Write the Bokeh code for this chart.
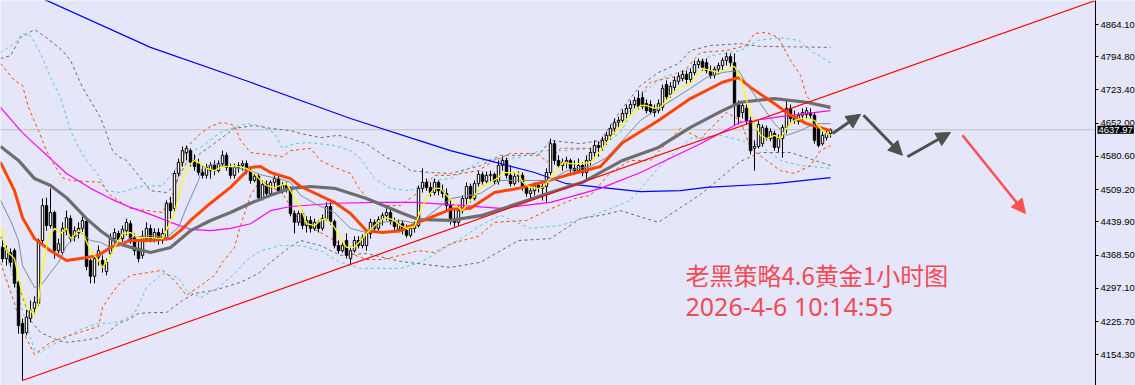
import numpy as np
from bokeh.plotting import figure
from bokeh.models import (Range1d, FixedTicker, PrintfTickFormatter, Label,
                          Arrow, NormalHead, ColumnDataSource)
from bokeh.embed import file_html
from bokeh.resources import INLINE
from bokeh.core.properties import value

# ---------------- candle data (XAUUSD H1) ----------------
open_ = [4385,4361,4374,4378,4310,4222,4202,4232,4254,4265,4400,4475,4432,4460,4378,4374,4421,4447,4409,4417,
         4426,4441,4357,4323,4364,4357,4333,4372,4404,4415,4404,4421,4436,4406,4383,4368,4404,4426,4404,4417,
         4400,4406,4480,4469,4544,4568,4589,4593,4572,4565,4546,4540,4550,4561,4550,4565,4583,4557,4540,4557,
         4561,4565,4550,4529,4538,4492,4520,4501,4525,4533,4507,4518,4512,4458,4439,4458,4432,4443,4426,4439,
         4426,4447,4473,4441,4389,4378,4400,4361,4378,4400,4389,4389,4415,4439,4426,4445,4454,4460,4441,4424,
         4436,4421,4411,4426,4432,4512,4525,4514,4503,4525,4507,4501,4475,4447,4439,4464,4490,4516,4490,4522,
         4542,4527,4540,4542,4527,4561,4572,4540,4522,4538,4540,4514,4501,4507,4518,4512,4516,4546,4608,4572,
         4561,4568,4572,4555,4550,4561,4546,4572,4589,4604,4600,4615,4626,4641,4654,4658,4673,4684,4692,4705,
         4707,4694,4692,4684,4679,4686,4735,4714,4729,4742,4748,4757,4746,4761,4778,4785,4782,4765,4755,4768,
         4776,4787,4795,4782,4694,4675,4684,4658,4598,4602,4608,4641,4619,4630,4600,4619,4643,4684,4666,4656,
         4669,4671,4675,4669,4641,4608,4621,4630]
high = [4400,4389,4383,4383,4314,4232,4250,4271,4280,4404,4490,4492,4512,4464,4404,4439,4464,4454,4430,4439,
        4452,4447,4361,4368,4389,4368,4361,4415,4426,4421,4432,4447,4443,4415,4400,4421,4439,4434,4426,4426,
        4426,4486,4494,4550,4576,4602,4604,4598,4585,4576,4561,4565,4568,4572,4572,4593,4589,4565,4565,4568,
        4572,4572,4559,4544,4542,4529,4529,4529,4540,4540,4525,4525,4516,4464,4464,4464,4452,4452,4447,4443,
        4456,4482,4482,4445,4400,4396,4415,4387,4409,4409,4413,4421,4447,4445,4452,4460,4469,4467,4449,4445,
        4443,4434,4432,4441,4518,4555,4533,4525,4533,4529,4520,4512,4486,4469,4475,4497,4525,4522,4529,4550,
        4548,4548,4550,4546,4572,4580,4578,4561,4546,4548,4546,4520,4516,4525,4525,4522,4555,4619,4615,4583,
        4576,4580,4576,4572,4576,4568,4583,4598,4615,4613,4623,4634,4649,4662,4666,4681,4692,4701,4709,4722,
        4718,4703,4701,4692,4703,4735,4744,4740,4752,4761,4765,4765,4770,4787,4791,4791,4791,4776,4774,4782,
        4793,4804,4802,4802,4701,4699,4692,4666,4615,4658,4649,4647,4641,4636,4628,4649,4701,4692,4679,4675,
        4684,4686,4684,4675,4649,4634,4636,4641]
low = [4353,4346,4344,4299,4200,4099,4196,4224,4245,4260,4389,4421,4426,4361,4372,4368,4411,4396,4398,4404,
       4417,4336,4308,4308,4346,4331,4325,4366,4393,4396,4398,4411,4393,4368,4353,4361,4396,4396,4396,4391,
       4393,4400,4447,4460,4538,4559,4572,4559,4550,4540,4533,4533,4533,4540,4546,4559,4550,4533,4533,4546,
       4550,4542,4522,4525,4486,4486,4492,4497,4512,4501,4501,4503,4452,4415,4432,4424,4417,4417,4421,4417,
       4421,4443,4434,4383,4372,4374,4361,4348,4374,4383,4383,4378,4404,4417,4421,4432,4443,4434,4421,4417,
       4413,4406,4406,4417,4428,4503,4507,4494,4497,4497,4492,4464,4434,4430,4432,4458,4473,4482,4486,4516,
       4520,4522,4527,4520,4520,4550,4533,4516,4518,4525,4507,4494,4490,4497,4503,4486,4482,4540,4563,4555,
       4550,4555,4546,4542,4546,4538,4529,4561,4576,4580,4593,4606,4617,4628,4641,4651,4662,4671,4684,4682,
       4682,4673,4671,4666,4673,4679,4703,4707,4722,4735,4742,4737,4740,4755,4770,4765,4759,4748,4748,4757,
       4765,4776,4774,4647,4649,4662,4649,4585,4550,4598,4602,4615,4613,4593,4589,4578,4630,4654,4651,4649,
       4656,4662,4662,4608,4600,4604,4615,4621]
close = [4361,4378,4353,4308,4217,4200,4235,4250,4267,4400,4475,4432,4460,4378,4393,4426,4449,4404,4421,4426,
         4443,4344,4323,4361,4378,4344,4353,4404,4417,4402,4424,4439,4400,4378,4361,4409,4426,4404,4417,4400,
         4415,4480,4464,4544,4568,4593,4598,4568,4559,4546,4540,4557,4561,4550,4565,4583,4557,4540,4557,4561,
         4565,4550,4529,4538,4492,4520,4501,4525,4533,4507,4518,4512,4458,4439,4458,4432,4443,4426,4439,4426,
         4447,4473,4441,4389,4378,4389,4368,4378,4400,4389,4406,4415,4439,4426,4445,4454,4460,4441,4430,4436,
         4421,4411,4426,4432,4512,4525,4514,4503,4525,4507,4501,4475,4447,4439,4464,4490,4516,4490,4522,4542,
         4527,4540,4542,4527,4561,4572,4540,4522,4538,4540,4514,4501,4507,4518,4512,4516,4546,4608,4572,4561,
         4568,4572,4555,4550,4561,4546,4572,4589,4604,4600,4615,4626,4641,4654,4658,4673,4684,4692,4701,4688,
         4688,4679,4677,4675,4694,4727,4709,4731,4744,4752,4757,4746,4761,4778,4785,4772,4765,4755,4768,4776,
         4787,4795,4782,4694,4666,4690,4658,4593,4602,4649,4643,4619,4634,4600,4619,4643,4684,4662,4658,4669,
         4675,4679,4669,4615,4604,4626,4630,4637.97]
bars = list(range(len(close)))
last_price = 4637.97

# ---------------- indicator lines: (bar, price) ----------------
ma_yellow = [(-0.5,4428),(1,4378),(3,4361),(4.5,4299),(6,4260),(8,4239),(9,4265),(10,4342),(11.5,4406),(13,4426),
             (14.5,4415),(16,4426),(17,4404),(19,4421),(20,4417),(22,4378),(24,4357),(25,4342),(27,4368),(29,4400),
             (30,4415),(32,4417),(34,4406),(37,4406),(40,4404),(43,4458),(44.5,4512),(46,4557),(48,4572),(49.5,4565),
             (51,4555),(53,4550),(54.5,4557),(58,4561),(61,4555),(63,4544),(64.5,4529),(66,4518),(68,4514),(71,4522),
             (73,4492),(74.5,4471),(76,4436),(78,4432),(79.5,4443),(81,4447),(83,4428),(84.5,4404),(86,4385),(88,4385),
             (89.5,4400),(91,4415),(93,4432),(94.5,4443),(96,4449),(98,4443),(99.5,4432),(101,4426),(103,4430),(104.5,4464),
             (106,4492),(108,4512),(109.5,4512),(111,4497),(114,4471),(115,4464),(117,4486),(119,4507),(120,4518),(122,4525),
             (124,4535),(125,4546),(127,4546),(129,4544),(130,4525),(132,4514),(134,4512),(135,4514),(137,4533),(139,4555),
             (140,4568),(142,4565),(145,4565),(147,4568),(149.5,4593),(152,4621),(154.5,4647),(157,4669),(159.5,4690),(161,4690),
             (163,4684),(164.5,4686),(167,4711),(169.5,4729),(172,4737),(174,4759),(175,4770),(177,4765),(179,4761),(180,4765),
             (183,4774),(184.5,4750),(186,4701),(188,4651),(189.5,4626),(191,4619),(193,4626),(194.5,4619),(196,4641),(198,4658),
             (199.5,4662),(201,4662),(203,4658),(204.5,4641),(206,4630),(207,4626)]
ma_slate = [(-0.5,4486),(2,4443),(4,4400),(5,4346),(8,4299),(10,4308),(12,4331),(14,4353),(16,4389),(19.5,4417),
            (22,4400),(24.5,4396),(27,4385),(29.5,4389),(32,4406),(37,4411),(41,4406),(44,4428),(46,4471),(49,4529),
            (50,4557),(53,4565),(55,4561),(59,4555),(62,4550),(65,4540),(69,4533),(72,4525),(74.5,4497),(79,4475),
            (83,4460),(87,4426),(91,4417),(95,4439),(99.5,4443),(104,4436),(108,4464),(112,4490),(119.5,4501),(124.5,4529),
            (133,4529),(137,4529),(141,4550),(147,4559),(151,4578),(155,4615),(159.5,4658),(164,4684),(168,4705),(172,4727),
            (176,4750),(180,4761),(184,4765),(186,4737),(189.5,4694),(193,4651),(196,4626),(199.5,4636),(203,4651),(207,4651)]
ma_orange = [(-0.5,4568),(3,4507),(5,4449),(8,4404),(12,4378),(16,4357),(19.5,4361),(24,4368),(27,4385),(32,4400),
             (37,4400),(42,4404),(44.5,4421),(47,4443),(52,4480),(57,4514),(62,4557),(64.5,4559),(67,4546),(72,4533),
             (74.5,4516),(83,4482),(87,4458),(91,4421),(95,4417),(99.5,4421),(104,4439),(112,4467),(117,4469),(123,4503),
             (129,4512),(135,4525),(141,4540),(149.5,4559),(155,4610),(164,4658),(172,4705),(180,4740),(184,4750),(187,4729),
             (193,4694),(197,4669),(201,4651),(207,4636)]
ma_gray = [(-0.5,4602),(4,4572),(8,4533),(12,4518),(16,4492),(21,4447),(24.5,4421),(29,4393),(33,4383),(37,4374),
           (42,4385),(47,4421),(52,4443),(57,4460),(62,4480),(67,4497),(72,4512),(77,4516),(83,4512),(91,4490),
           (99.5,4460),(104,4445),(112,4443),(120,4454),(129,4480),(137,4503),(145,4525),(155,4572),(164,4600),(172,4643),
           (180,4679),(184.5,4697),(193,4705),(201,4697),(207,4686)]
ma_magenta = [(-0.5,4686),(4.5,4636),(7,4615),(12,4576),(16,4544),(22,4512),(27,4490),(32,4471),(37,4456),(42,4439),
              (47,4424),(52,4421),(57,4426),(62,4436),(67,4464),(72,4473),(83,4480),(94.5,4482),(103,4482),(112,4477),
              (124.5,4469),(137,4482),(149.5,4512),(159.5,4546),(174.5,4608),(184.5,4654),(194.5,4666),(207,4679)]
ma_blue = [(7,4929),(11,4916),(37,4815),(62,4740),(87,4662),(104,4615),(112,4593),(124.5,4565),(133,4546),(141,4522),
           (149.5,4514),(159.5,4505),(169.5,4507),(176,4514),(193,4522),(207,4535)]

# Bollinger-style envelopes (dashed)
bb_orange_up = [(-0.5,4780),(3,4744),(5,4733),(6.5,4686),(9,4636),(11,4593),(13,4561),(15,4535),(17,4529),(24.5,4525),
                (27,4497),(32,4469),(40,4460),(43,4507),(46,4600),(49.5,4630),(52,4645),(55,4654),(58,4647),(59.5,4615),
                (62,4589),(70,4580),(72,4593),(77,4598),(79.5,4572),(83,4557),(87,4544),(89,4514),(91,4492),(95,4475),
                (99.5,4475),(103,4497),(108,4540),(112,4540),(119,4550),(123,4572),(127,4587),(134,4587),(136,4568),(139.5,4598),
                (147,4598),(149,4608),(152,4630),(156,4679),(162,4740),(169.5,4755),(174.5,4804),(181,4808),(186,4819),(188,4845),
                (191,4847),(194,4836),(195,4819),(197,4787),(199.5,4755),(201,4711),(202.5,4694),(207,4684)]
bb_orange_dn = [(-0.5,4353),(3,4265),(5,4207),(8,4155),(10,4168),(12,4181),(16,4194),(24,4215),(25,4256),(27,4282),
                (29,4305),(32,4325),(40,4336),(43,4314),(46,4282),(49.5,4303),(53,4325),(55,4353),(58,4385),(59.5,4432),
                (62,4497),(64.5,4529),(70,4501),(74.5,4439),(79.5,4417),(83,4400),(87,4372),(91,4359),(95,4359),(99.5,4368),
                (104,4378),(108,4374),(112,4393),(119,4409),(123,4439),(131,4443),(136,4464),(143,4490),(147,4497),(152,4546),
                (157,4572),(162,4572),(169.5,4641),(174.5,4619),(181,4675),(184.5,4658),(187,4598),(191,4572),(194.5,4550),(198,4544),
                (202,4561),(204.5,4593),(207,4604)]
bb_cyan_up = [(-0.5,4804),(3,4823),(5,4845),(7,4840),(9.5,4802),(12,4750),(14.5,4707),(17,4636),(19.5,4593),(21,4572),
              (24,4540),(26,4507),(29.5,4503),(34.5,4516),(40,4518),(43,4550),(46,4587),(49.5,4600),(54.5,4632),(58,4643),
              (61,4651),(64.5,4647),(68,4630),(70,4598),(73,4608),(77,4610),(83,4604),(87,4593),(89.5,4576),(93,4533),
              (97,4512),(102,4507),(107,4529),(112,4533),(120,4572),(129,4578),(134.5,4593),(141,4593),(149,4600),(154.5,4632),
              (159.5,4711),(164.5,4748),(172,4770),(177,4797),(184.5,4808),(189,4830),(194.5,4836),(199,4830),(202,4808),(207,4782)]
bb_cyan_dn = [(-0.5,4389),(1,4364),(3,4314),(4,4277),(5,4250),(7,4191),(8,4164),(9.5,4159),(12,4174),(16,4191),
              (19,4207),(24,4222),(27,4222),(30,4228),(33,4243),(34.5,4271),(36,4299),(40,4329),(44,4320),(46,4293),
              (49.5,4277),(54,4299),(58,4329),(61,4357),(64.5,4378),(69.5,4389),(74.5,4389),(79.5,4378),(84.5,4353),(89.5,4340),
              (94.5,4340),(99.5,4340),(104.5,4353),(109.5,4378),(114.5,4404),(119.5,4432),(124.5,4454),(132,4426),(139.5,4432),(149.5,4460),
              (157,4486),(164.5,4561),(172,4619),(179.5,4626),(184.5,4615),(189.5,4604),(194.5,4572),(199.5,4561),(207,4555)]
bb_gray_up = [(-0.5,4791),(2,4797),(4.5,4836),(8,4853),(11,4836),(15,4808),(17,4787),(20,4729),(24.5,4664),(26,4630),
              (27.5,4593),(29,4580),(31,4572),(35,4529),(37,4507),(41,4503),(43,4518),(46,4568),(49.5,4587),(54,4615),
              (58,4641),(63,4647),(67,4641),(72,4636),(74.5,4630),(79.5,4621),(84,4626),(87,4619),(91,4608),(96,4578),
              (99.5,4565),(102,4550),(107,4546),(112,4544),(119.5,4561),(124.5,4583),(134,4583),(137,4615),(144.5,4608),(149.5,4615),
              (154.5,4679),(159.5,4733),(164,4761),(169,4780),(172,4808),(177,4819),(184.5,4823),(189.5,4817),(207,4815)]
bb_gray_dn = [(-0.5,4409),(2,4346),(4.5,4293),(7,4228),(9,4207),(10,4200),(14,4185),(16,4181),(20,4185),(24,4191),
              (26,4200),(29,4222),(31,4228),(34,4243),(37,4245),(41,4245),(45,4271),(48,4286),(53,4293),(59.5,4310),
              (64,4329),(67,4353),(72,4387),(74.5,4400),(79.5,4389),(84.5,4368),(91,4372),(99.5,4355),(112,4342),(119.5,4353),
              (129,4400),(137,4404),(144.5,4447),(149.5,4454),(154.5,4464),(164,4439),(174.5,4499),(184.5,4570),(189.5,4589),(197,4589),
              (207,4561)]

# hand-drawn objects
axis_bar = 273.25          # where the price scale sits (bar units)
trend_bars = [5, axis_bar]
trend_prices = [4099, 4915.7]
proj_x0 = [207.5, 215.25, 226.25]
proj_y0 = [4630, 4669, 4580]
proj_x1 = [214.5, 225, 237]
proj_y1 = [4671, 4583, 4632]
down_x0, down_y0, down_x1, down_y1 = 240, 4626, 255.75, 4458

y_ticks = [4154.30, 4225.70, 4297.10, 4368.50, 4439.90, 4509.20, 4580.60, 4652.00, 4723.40, 4794.80, 4864.10]
note_lines = ["老黑策略4.6黄金1小时图", "2026-4-6 10:14:55"]
note_x = 170.75
note_y = [4327, 4260]

BG = "#E6E6FA"

p = figure(frame_width=1135, frame_height=385, output_backend="svg", toolbar_location=None,
           x_range=Range1d(-0.5, 283.25), y_range=Range1d(4088.3, 4915.7),
           x_axis_type=None, y_axis_location="right", min_border=0,
           background_fill_color=BG, border_fill_color=BG, outline_line_color=None)
p.xgrid.visible = False
p.ygrid.visible = False

ax = p.yaxis[0]
ax.fixed_location = axis_bar
ax.ticker = FixedTicker(ticks=y_ticks)
ax.formatter = PrintfTickFormatter(format="%.2f")
ax.major_label_text_font = "Liberation Sans"
ax.major_label_text_font_size = "9.5px"
ax.major_label_text_color = "black"
ax.axis_line_color = "black"
ax.major_tick_line_color = "black"
ax.major_tick_in = 0
ax.major_tick_out = 3
ax.major_label_standoff = 2
ax.minor_tick_line_color = None

p.line([-0.5, axis_bar], [last_price, last_price], line_color="#C0C0C0", line_width=1, level="underlay")

def xy(pairs):
    return [a for a, _ in pairs], [b for _, b in pairs]

dash = "3 3"
for pts, col in [(bb_gray_up, "#696969"), (bb_gray_dn, "#696969"),
                 (bb_cyan_up, "#48D1CC"), (bb_cyan_dn, "#48D1CC"),
                 (bb_orange_up, "#FF4500"), (bb_orange_dn, "#FF4500")]:
    xs, ys = xy(pts)
    p.line(xs, ys, line_color=col, line_width=1, line_dash=dash)

# candles
top = [max(o, c) for o, c in zip(open_, close)]
bot = [min(o, c) for o, c in zip(open_, close)]
fill = ["white" if c >= o else "black" for o, c in zip(open_, close)]
src = ColumnDataSource(dict(x=bars, h=high, l=low, top=top, bot=bot, fill=fill))
p.segment(x0="x", y0="h", x1="x", y1="l", line_color="black", line_width=1, source=src)
p.vbar(x="x", top="top", bottom="bot", width=0.6, fill_color="fill", line_color="black",
       line_width=1, source=src)

for pts, col, w in [(ma_blue, "#0000FF", 1.2), (ma_magenta, "#FF00FF", 1.2),
                    (ma_gray, "#6E6E6E", 3.2), (ma_orange, "#FF4500", 3),
                    (ma_slate, "#7B8A9A", 1), (ma_yellow, "#FFFF00", 1.3)]:
    xs, ys = xy(pts)
    p.line(xs, ys, line_color=col, line_width=w)

p.line(trend_bars, trend_prices, line_color="#FF0000", line_width=1.2)

gsrc = ColumnDataSource(dict(x0=proj_x0, y0=proj_y0, x1=proj_x1, y1=proj_y1))
p.add_layout(Arrow(x_start="x0", y_start="y0", x_end="x1", y_end="y1", source=gsrc,
                   line_color="#505050", line_width=3,
                   end=NormalHead(size=14, fill_color="#505050", line_color="#505050")))
p.add_layout(Arrow(x_start=down_x0, y_start=down_y0, x_end=down_x1, y_end=down_y1,
                   line_color="#FF5050", line_width=2.5,
                   end=NormalHead(size=14, fill_color="#FF5050", line_color="#FF5050")))

p.text(x=[note_x], y=[note_y[0]], text=[note_lines[0]], text_color="#F04B55",
       text_font=value("Noto Sans CJK SC"), text_font_size="24px",
       text_baseline="alphabetic", text_align="left")
p.text(x=[note_x], y=[note_y[1]], text=[note_lines[1]], text_color="#F04B55",
       text_font=value("Noto Sans"), text_font_size="25px",
       text_baseline="alphabetic", text_align="left")

# current-price tag on the price scale
p.add_layout(Label(x=axis_bar, y=last_price, x_offset=2,
                   text="4637.97", text_baseline="middle", text_align="left",
                   text_color="white", text_font="Liberation Sans", text_font_size="9.5px",
                   background_fill_color="black", padding=1, level="overlay"))

open("out.html", "w").write(file_html(p, INLINE))
